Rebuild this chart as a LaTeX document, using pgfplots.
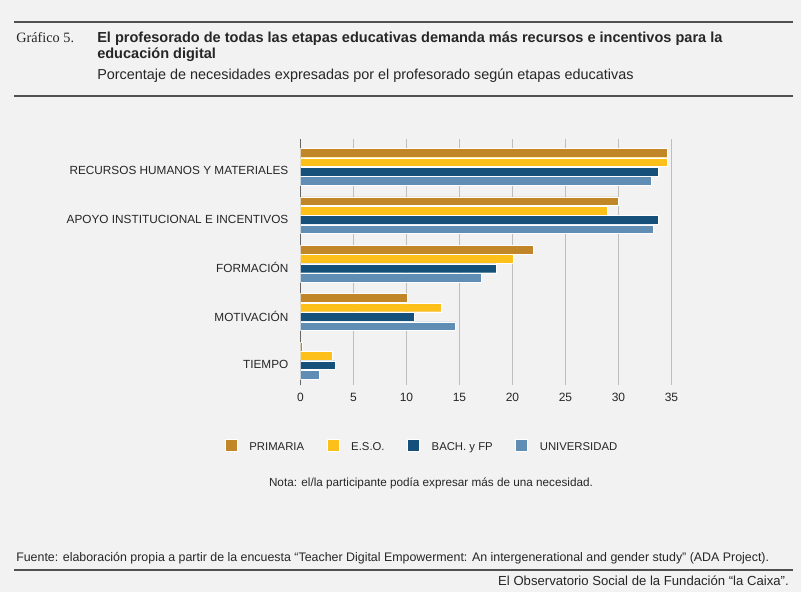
\documentclass[border=0pt]{standalone}
\usepackage{pgfplots}
\pgfplotsset{compat=1.18}
\usepackage{fontspec}
\setmainfont{Liberation Sans}
\newfontfamily\seriffont{Liberation Serif}
\newfontfamily\titlefont{Liberation Sans}
\definecolor{bg}{HTML}{F2F2F2}
\definecolor{txt}{HTML}{262626}
\definecolor{rule}{HTML}{505050}
\definecolor{gridgray}{HTML}{BEBEBE}
\definecolor{axisgray}{HTML}{666666}
\definecolor{cPrim}{HTML}{C08628}
\definecolor{cEso}{HTML}{FDBF1A}
\definecolor{cBach}{HTML}{14507A}
\definecolor{cUniv}{HTML}{5F8DB4}
\pgfplotsset{sq/.style={legend image code/.code={\fill[##1] (0pt,-3pt) rectangle (9pt,6pt);}}}
\begin{document}
\begin{tikzpicture}[x=0.75pt,y=-0.75pt]
\fill[bg] (0,0) rectangle (801,592);
\useasboundingbox (0,0) rectangle (801,592);
% rules
\draw[rule, line width=1.5pt] (14,22) -- (793,22);
\draw[rule, line width=1.5pt] (14,96) -- (793,96);
\draw[rule, line width=1.5pt] (14,570) -- (793,570);
% header
\node[anchor=base west, inner sep=0pt, text=txt, font=\seriffont\fontsize{10.7}{12}\selectfont] at (16,43) {Gráfico 5.};
\node[anchor=base west, inner sep=0pt, text=txt, font=\titlefont\bfseries\fontsize{10.9}{12}\selectfont] at (97,43) {El profesorado de todas las etapas educativas demanda más recursos e incentivos para la};
\node[anchor=base west, inner sep=0pt, text=txt, font=\titlefont\bfseries\fontsize{10.9}{12}\selectfont] at (97,59) {educación digital};
\node[anchor=base west, inner sep=0pt, text=txt, font=\fontsize{10.8}{12}\selectfont] at (97,80) {Porcentaje de necesidades expresadas por el profesorado según etapas educativas};
% footer
\node[anchor=base, inner sep=0pt, text=txt, font=\fontsize{8.8}{10}\selectfont] at (431,486) {Nota: el/la participante podía expresar más de una necesidad.};
\node[anchor=base west, inner sep=0pt, text=txt, font=\fontsize{9.3}{11}\selectfont] at (16,561) {Fuente: elaboración propia a partir de la encuesta “Teacher Digital Empowerment: An intergenerational and gender study” (ADA Project).};
\node[anchor=base east, inner sep=0pt, text=txt, font=\fontsize{9.85}{11}\selectfont] at (789,585) {El Observatorio Social de la Fundación “la Caixa”.};
\begin{axis}[
  at={(225.375pt,-288.75pt)}, anchor=south west,
  scale only axis, width=278.25pt, height=184.5pt,
  xmin=0, xmax=35, ymin=-0.506, ymax=4.574,
  xtick={0,5,...,35}, ytick={0,1,2,3,4},
  yticklabels={TIEMPO, MOTIVACIÓN, FORMACIÓN, APOYO INSTITUCIONAL E INCENTIVOS, RECURSOS HUMANOS Y MATERIALES},
  xbar, bar width=0.18,
  axis x line=bottom, axis y line=left,
  axis line style={-},
  x axis line style={draw=none},
  y axis line style={draw=axisgray, line width=1pt},
  major tick length=0pt,
  xmajorgrids, grid style={gridgray, line width=0.75pt},
  ticklabel style={font=\fontsize{9}{10}\selectfont, text=txt},
  yticklabel style={font=\fontsize{8.85}{10}\selectfont, xshift=-5.6pt, yshift=-3pt},
  xticklabel style={yshift=-2.5pt},
  /pgf/number format/assume math mode=true,
  legend columns=4,
  legend style={at={(axis description cs:-0.2035,-0.252)}, anchor=west, draw=none, fill=none,
    inner sep=0pt, outer sep=0pt, font=\fontsize{8.5}{10}\selectfont, text=txt,
    /tikz/every even column/.append style={column sep=15pt},
    /tikz/every odd column/.append style={column sep=7pt}},
]
\addplot[fill=cPrim, draw=white, line width=0.3pt, bar shift=0.291, sq] coordinates {(34.62,4) (29.97,3) (21.94,2) (10.1,1) (0.12,0)};
\addplot[fill=cEso, draw=white, line width=0.3pt, bar shift=0.097, sq] coordinates {(34.56,4) (28.9,3) (20.11,2) (13.31,1) (2.96,0)};
\addplot[fill=cBach, draw=white, line width=0.3pt, bar shift=-0.097, sq] coordinates {(33.74,4) (33.74,3) (18.48,2) (10.73,1) (3.24,0)};
\addplot[fill=cUniv, draw=white, line width=0.3pt, bar shift=-0.291, sq] coordinates {(33.11,4) (33.24,3) (17.09,2) (14.64,1) (1.79,0)};
\legend{PRIMARIA, E.S.O., BACH. y FP, UNIVERSIDAD}
\end{axis}
\end{tikzpicture}
\end{document}
